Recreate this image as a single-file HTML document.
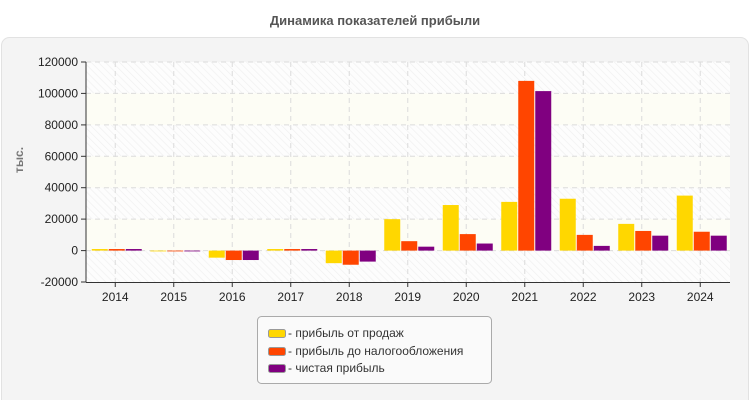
<!DOCTYPE html>
<html><head><meta charset="utf-8"><style>
body{margin:0;background:#fff;width:750px;height:400px;overflow:hidden;font-family:"Liberation Sans",sans-serif}
</style></head><body>
<svg id="s" width="750" height="400" xmlns="http://www.w3.org/2000/svg" font-family="Liberation Sans, sans-serif">
<defs>
<pattern id="h" width="5" height="5" patternUnits="userSpaceOnUse" patternTransform="rotate(-45)">
<rect width="5" height="5" fill="#fdfdfd"/><line x1="0" y1="0" x2="0" y2="5" stroke="#f1f1f1" stroke-width="1.5"/>
</pattern>
</defs>
<text x="375" y="25" text-anchor="middle" font-size="13" font-weight="bold" fill="#555">Динамика показателей прибыли</text>
<rect x="1.5" y="37.5" width="747" height="370" rx="8" fill="#f4f4f4" stroke="#e2e2e2"/>
<rect x="86" y="62" width="644" height="220" fill="url(#h)"/>
<g fill="#fdfdf5">
<rect x="86" y="93.4" width="644" height="31.4"/>
<rect x="86" y="156.3" width="644" height="31.4"/>
<rect x="86" y="219.1" width="644" height="31.4"/>
</g>
<g id="grid" stroke="#dcdcdc" stroke-dasharray="5,4" fill="none"></g>
<g id="bars"></g>
<g stroke="#333" fill="none">
<line x1="86" y1="62" x2="86" y2="282.5"/>
<line x1="86" y1="282.5" x2="730" y2="282.5"/>
</g>
<g id="ticks" stroke="#333"></g>
<g font-size="12" fill="#222" text-anchor="end">
<text x="78" y="66">120000</text><text x="78" y="97.4">100000</text><text x="78" y="128.9">80000</text>
<text x="78" y="160.3">60000</text><text x="78" y="191.7">40000</text><text x="78" y="223.1">20000</text>
<text x="78" y="254.6">0</text><text x="78" y="286">-20000</text>
</g>
<g font-size="12" fill="#222" text-anchor="middle">
<text x="115.25" y="301">2014</text><text x="173.75" y="301">2015</text><text x="232.25" y="301">2016</text>
<text x="290.75" y="301">2017</text><text x="349.25" y="301">2018</text><text x="407.75" y="301">2019</text>
<text x="466.25" y="301">2020</text><text x="524.75" y="301">2021</text><text x="583.25" y="301">2022</text>
<text x="641.75" y="301">2023</text><text x="700.25" y="301">2024</text>
</g>
<text transform="translate(23,160) rotate(-90)" text-anchor="middle" font-size="12" font-weight="bold" fill="#777">тыс.</text>
<rect x="257.5" y="316.5" width="234" height="67" rx="4" fill="#fafafa" stroke="#aaa"/>
<g stroke="#999">
<rect x="268.5" y="329.5" width="17" height="8" rx="2" fill="#ffd700"/>
<rect x="268.5" y="347.5" width="17" height="8" rx="2" fill="#ff4500"/>
<rect x="268.5" y="364.5" width="17" height="8" rx="2" fill="#800080"/>
</g>
<g font-size="12" fill="#333">
<text x="288" y="337">- прибыль от продаж</text>
<text x="288" y="355">- прибыль до налогообложения</text>
<text x="288" y="372">- чистая прибыль</text>
</g>
</svg>
<script>
var NS="http://www.w3.org/2000/svg";
function el(p,t,a){var e=document.createElementNS(NS,t);for(var k in a)e.setAttribute(k,a[k]);document.getElementById(p).appendChild(e);}
var ys=[62,93.4,124.9,156.3,187.7,219.1,250.6];
ys.forEach(function(y){el("grid","line",{x1:86,x2:730,y1:y,y2:y});});
for(var i=0;i<11;i++){var c=86+58.5*(i+0.5);el("grid","line",{x1:c,x2:c,y1:62,y2:282});el("ticks","line",{x1:c,x2:c,y1:282,y2:287});}
ys.concat([282]).forEach(function(y){el("ticks","line",{x1:81,x2:86,y1:y,y2:y});});
var d=[[1000,1000,1000],[-500,-500,-500],[-4500,-6000,-6000],[1000,1000,1000],[-8000,-9000,-7000],[20000,6000,2500],[29000,10500,4500],[31000,108000,101500],[33000,10000,3000],[17000,12500,9500],[35000,12000,9500]];
var col=["#ffd700","#ff4500","#800080"],k=220/140000,z=250.6;
d.forEach(function(r,i){var c=86+58.5*(i+0.5);r.forEach(function(v,j){var h=Math.abs(v)*k;el("bars","rect",{x:c-23.5+17*j,y:v>=0?z-h:z,width:16,height:h,fill:col[j]});});});
</script>
</body></html>
